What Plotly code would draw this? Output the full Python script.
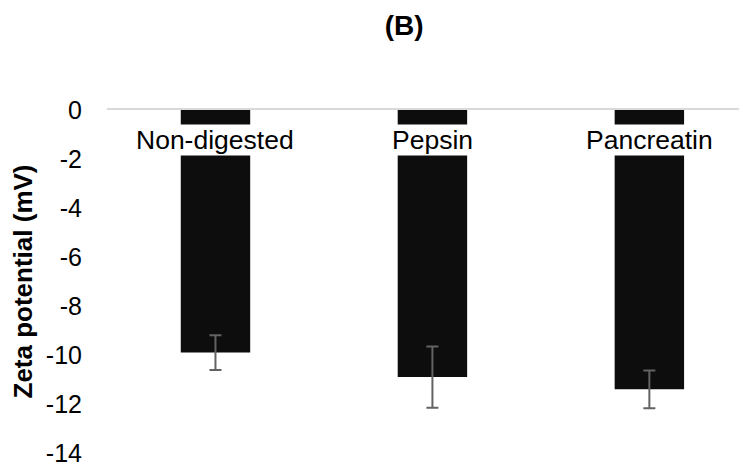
import plotly.graph_objects as go

categories = ["Non-digested", "Pepsin", "Pancreatin"]
zeta_mean = [-9.9, -10.9, -11.4]
zeta_err = [0.71, 1.25, 0.77]
y_ticks = [0, -2, -4, -6, -8, -10, -12, -14]

FONT = "Arial, 'Liberation Sans', sans-serif"

fig = go.Figure()
fig.add_trace(go.Bar(
    x=categories,
    y=zeta_mean,
    width=0.32,
    marker=dict(color="#0d0d0d", line=dict(width=0)),
    error_y=dict(type="data", array=zeta_err, visible=True,
                 color="#636363", thickness=2, width=6),
))

for c in categories:
    fig.add_annotation(x=c, y=0, xref="x", yref="y", text=c,
                       showarrow=False, yanchor="middle", yshift=-30,
                       bgcolor="white", borderpad=0,
                       font=dict(family=FONT, size=26.5, color="#000000"))

# page body has an 8px margin: figure spans 8..747 x 8..466 of the window
fig.update_layout(
    width=739, height=458,
    margin=dict(l=99, r=0, t=102, b=13, autoexpand=False),
    paper_bgcolor="white", plot_bgcolor="white",
    showlegend=False,
    title=dict(text="(B)", x=0.536, xanchor="center", y=0.962, yanchor="middle",
               font=dict(family=FONT, size=28, color="#000000", weight="bold")),
)
fig.update_xaxes(range=[-0.5, 2.45], side="top", showline=True, linecolor="#d9d9d9",
                 linewidth=1.5, showticklabels=False, ticks="", showgrid=False,
                 automargin=False)
fig.update_yaxes(range=[-14.001, 0], tickvals=y_ticks, ticktext=[str(v) for v in y_ticks],
                 showgrid=False, zeroline=False, showline=False, ticks="",
                 ticklabelstandoff=24, automargin=False, ticklabeloverflow="allow",
                 tickfont=dict(family=FONT, size=25, color="#000000"),
                 title=dict(text="Zeta potential (mV)", standoff=8,
                            font=dict(family=FONT, size=26, color="#000000", weight="bold")))

fig.write_html("out.html")
